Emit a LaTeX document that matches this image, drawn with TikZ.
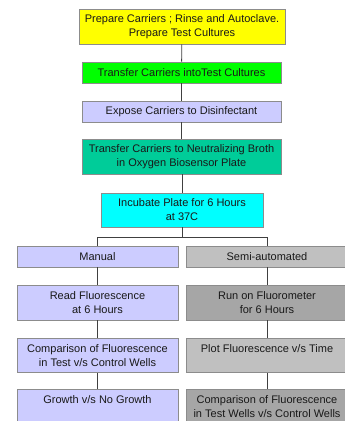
\documentclass[tikz,border=0pt]{standalone}
\usepackage{fontspec}
\setmainfont{Liberation Sans}
\definecolor{bordergray}{HTML}{8C8C8C}
\definecolor{lav}{HTML}{CCCCFF}
\definecolor{tealg}{HTML}{00CC99}
\definecolor{cyanb}{HTML}{00FFFF}
\definecolor{yel}{HTML}{FFFF00}
\definecolor{grn}{HTML}{00FF00}
\definecolor{lgray}{HTML}{C0C0C0}
\definecolor{dgray}{HTML}{A6A6A6}
\begin{document}
\begin{tikzpicture}[x=1pt,y=-1pt,
  box/.style={draw=bordergray,line width=0.9pt,rectangle,inner sep=0pt,align=center,
    font=\fontsize{11}{14}\selectfont,text=black!90},
  conn/.style={draw=black!75,line width=0.8pt}]
\useasboundingbox[fill=white] (0,0) rectangle (345,421);
\node[box,fill=yel,minimum width=206pt,minimum height=35pt] (b1) at (182,26.5)
  {Prepare Carriers ; Rinse and Autoclave.\\Prepare Test Cultures};
\node[box,fill=grn,minimum width=199pt,minimum height=21pt] (b2) at (181.5,72.5)
  {Transfer Carriers intoTest Cultures};
\node[box,fill=lav,minimum width=199pt,minimum height=21pt] (b3) at (181.5,111.5)
  {Expose Carriers to Disinfectant};
\node[box,fill=tealg,minimum width=199pt,minimum height=35pt] (b4) at (181.5,156.5)
  {Transfer Carriers to Neutralizing Broth\\in Oxygen Biosensor Plate};
\node[box,fill=cyanb,minimum width=162pt,minimum height=34pt] (b5) at (182,210)
  {Incubate Plate for 6 Hours\\at 37C};
\coordinate (split) at (182,237);
\coordinate (sl) at (97.5,237);
\coordinate (sr) at (267,237);
\node[box,fill=lav,minimum width=161pt,minimum height=21pt] (m1) at (97.5,256.5) {Manual};
\node[box,fill=lgray,minimum width=161pt,minimum height=21pt] (s1) at (267,256.5) {Semi-automated};
\node[box,fill=lav,minimum width=161pt,minimum height=35pt] (m2) at (97.5,302.5)
  {Read Fluorescence\\at 6 Hours};
\node[box,fill=dgray,minimum width=161pt,minimum height=35pt] (s2) at (267,302.5)
  {Run on Fluorometer\\for 6 Hours};
\node[box,fill=lav,minimum width=161pt,minimum height=34pt] (m3) at (97.5,355.5)
  {Comparison of Fluorescence\\in Test v/s Control Wells};
\node[box,fill=lgray,minimum width=161pt,minimum height=34pt] (s3) at (267,355.5)
  {Plot Fluorescence v/s Time\\\mbox{}};
\node[box,fill=lav,minimum width=161pt,minimum height=35pt] (m4) at (97.5,407)
  {Growth v/s No Growth\\\mbox{}};
\node[box,fill=dgray,minimum width=161pt,minimum height=35pt] (s4) at (267,407)
  {Comparison of Fluorescence\\in Test Wells v/s Control Wells};
\draw[conn] (b1) -- (b2);
\draw[conn] (b2) -- (b3);
\draw[conn] (b3) -- (b4);
\draw[conn] (b4.south -| b5.south) -- (b5);
\draw[conn] (b5) -- (split);
\draw[conn] (sl) -- (sr);
\draw[conn] (sl) -- (m1);
\draw[conn] (sr) -- (s1);
\draw[conn] (m1) -- (m2);
\draw[conn] (s1) -- (s2);
\draw[conn] (m2) -- (m3);
\draw[conn] (s2) -- (s3);
\draw[conn] (m3) -- (m4);
\draw[conn] (s3) -- (s4);
\end{tikzpicture}
\end{document}
